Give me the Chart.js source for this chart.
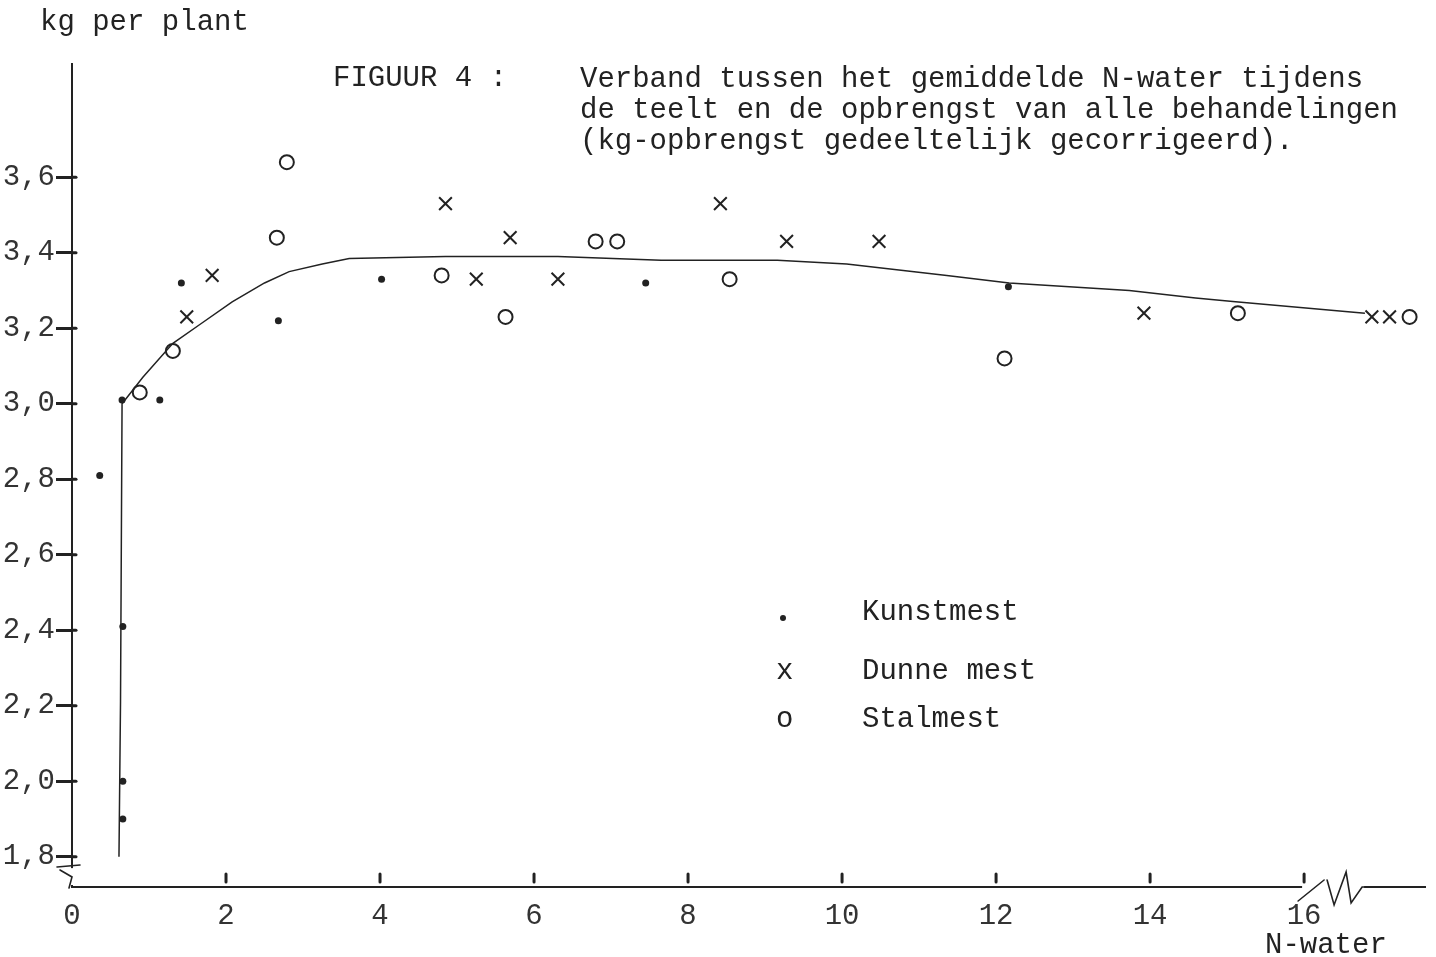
<!DOCTYPE html>
<html>
<head>
<meta charset="utf-8">
<script src="https://cdn.jsdelivr.net/npm/chart.js@4.4.1/dist/chart.umd.min.js"></script>
<style>
  html, body { margin: 0; padding: 0; background: #fff; }
  #wrap { position: relative; width: 1436px; height: 957px; overflow: hidden; }
  canvas { position: absolute; left: 0; top: 0; }
  .t { position: absolute; font-family: "Courier New", "Nimbus Mono PS", "FreeMono", "Liberation Mono", monospace;
       font-size: 29px; line-height: 29px; color: #222; white-space: pre; }
  .dot { position: absolute; width: 6px; height: 6px; border-radius: 50%; background: #222; }
</style>
</head>
<body>
<div id="wrap">
  <canvas id="chart" width="1436" height="957"></canvas>
  <div class="t" style="left:40px; top:8px;">kg per plant</div>
  <div class="t" style="left:333px; top:64px;">FIGUUR 4 :</div>
  <div class="t" style="left:580px; top:64px; line-height:31px;">Verband tussen het gemiddelde N-water tijdens
de teelt en de opbrengst van alle behandelingen
(kg-opbrengst gedeeltelijk gecorrigeerd).</div>
  <div class="dot" style="left:780px; top:615px;"></div>
  <div class="t" style="left:776px; top:657px;">x</div>
  <div class="t" style="left:776px; top:705px;">o</div>
  <div class="t" style="left:862px; top:598px;">Kunstmest</div>
  <div class="t" style="left:862px; top:657px;">Dunne mest</div>
  <div class="t" style="left:862px; top:705px;">Stalmest</div>
  <div class="t" style="left:1265px; top:931px;">N-water</div>
</div>
<script>
// tick labels
const xTicks = [0, 2, 4, 6, 8, 10, 12, 14, 16];
const yTicks = [1.8, 2.0, 2.2, 2.4, 2.6, 2.8, 3.0, 3.2, 3.4, 3.6];

// Kunstmest (dots)
const kunstX = [0.36, 0.65, 1.14, 1.42, 2.68, 4.02, 7.45, 12.16, 0.66, 0.66, 0.66];
const kunstY = [2.81, 3.01, 3.01, 3.32, 3.22, 3.33, 3.32, 3.31, 2.41, 2.00, 1.90];

// Dunne mest (x)
const dunneX = [1.49, 1.82, 4.85, 5.69, 5.25, 6.31, 8.42, 9.28, 10.48, 13.92, 16.88, 17.11];
const dunneY = [3.23, 3.34, 3.53, 3.44, 3.33, 3.33, 3.53, 3.43, 3.43, 3.24, 3.23, 3.23];

// Stalmest (o)
const stalX = [0.88, 1.31, 2.66, 2.79, 4.80, 5.63, 6.80, 7.08, 8.54, 12.11, 15.14, 17.37];
const stalY = [3.03, 3.14, 3.44, 3.64, 3.34, 3.23, 3.43, 3.43, 3.33, 3.12, 3.24, 3.23];

// hand drawn curve
const curveX = [0.61, 0.63, 0.65, 0.92, 1.31, 1.66, 2.08, 2.50, 2.82, 3.25, 3.60, 4.85, 6.31, 7.65, 9.16, 10.06, 11.36, 12.17, 13.73, 14.59, 15.11, 16.79];
const curveY = [1.80, 2.21, 3.00, 3.07, 3.16, 3.21, 3.27, 3.32, 3.35, 3.37, 3.385, 3.39, 3.39, 3.38, 3.38, 3.37, 3.34, 3.32, 3.30, 3.28, 3.27, 3.24];

const INK = '#222';
const FONT = { family: '"Courier New", "Nimbus Mono PS", "FreeMono", "Liberation Mono", monospace', size: 29 };

const pts = (xs, ys) => xs.map((x, i) => ({ x: x, y: ys[i] }));

// small tick marks above the x axis, y dashes crossing the axis, and the axis breaks
const decor = {
  id: 'decor',
  afterDraw(chart) {
    const { ctx, chartArea: a, scales: { x, y } } = chart;
    ctx.save();
    ctx.strokeStyle = INK;
    ctx.lineCap = 'round';

    ctx.lineWidth = 3;
    for (const v of xTicks.slice(1)) {
      const px = x.getPixelForValue(v);
      ctx.beginPath();
      ctx.moveTo(px, a.bottom - 13);
      ctx.lineTo(px, a.bottom - 5);
      ctx.stroke();
    }
    for (const v of yTicks) {
      const py = y.getPixelForValue(v);
      ctx.beginPath();
      ctx.moveTo(a.left, py);
      ctx.lineTo(a.left + 4, py);
      ctx.stroke();
    }

    // x break near 16
    const x16 = x.getPixelForValue(16);
    ctx.fillStyle = '#fff';
    ctx.fillRect(x16 - 2, a.bottom - 3, 62, 6);
    ctx.lineWidth = 1.6;
    ctx.beginPath();
    ctx.moveTo(x16 - 6, a.bottom + 14);
    ctx.lineTo(x16 + 20, a.bottom - 7);
    ctx.moveTo(x16 + 23, a.bottom - 7);
    ctx.lineTo(x16 + 30, a.bottom + 18);
    ctx.lineTo(x16 + 42, a.bottom - 15);
    ctx.lineTo(x16 + 47, a.bottom + 16);
    ctx.lineTo(x16 + 58, a.bottom);
    ctx.lineTo(x16 + 62, a.bottom);
    ctx.stroke();

    // y break below 1,8
    const yb = y.getPixelForValue(1.77);
    ctx.fillRect(a.left - 3, yb, 6, a.bottom - yb - 2);
    ctx.beginPath();
    ctx.moveTo(a.left - 15, a.bottom - 20);
    ctx.lineTo(a.left + 8, a.bottom - 22);
    ctx.moveTo(a.left - 12, a.bottom - 17);
    ctx.lineTo(a.left, a.bottom - 10);
    ctx.lineTo(a.left - 3, a.bottom + 1);
    ctx.stroke();
    ctx.restore();
  }
};

const chart = new Chart(document.getElementById('chart'), {
  type: 'scatter',
  data: {
    datasets: [
      {
        label: 'curve',
        data: pts(curveX, curveY),
        showLine: true,
        borderColor: INK,
        borderWidth: 1.5,
        pointRadius: 0,
        tension: 0,
      },
      {
        label: 'Kunstmest',
        data: pts(kunstX, kunstY),
        pointStyle: 'circle',
        pointRadius: 3.5,
        backgroundColor: INK,
        borderColor: INK,
        borderWidth: 0,
      },
      {
        label: 'Dunne mest',
        data: pts(dunneX, dunneY),
        pointStyle: 'crossRot',
        pointRadius: 9,
        borderColor: INK,
        borderWidth: 2,
      },
      {
        label: 'Stalmest',
        data: pts(stalX, stalY),
        pointStyle: 'circle',
        pointRadius: 7,
        backgroundColor: 'rgba(0,0,0,0)',
        borderColor: INK,
        borderWidth: 2,
      },
    ]
  },
  options: {
    responsive: false,
    animation: false,
    devicePixelRatio: 1,
    layout: { padding: { top: 64, right: 6, left: 0, bottom: 0 } },
    plugins: {
      legend: { display: false },
      tooltip: { enabled: false },
    },
    scales: {
      x: {
        type: 'linear',
        min: 0,
        max: 17.57,
        afterBuildTicks: (axis) => { axis.ticks = xTicks.map(v => ({ value: v })); },
        afterFit: (s) => { s.height = 70; },
        grid: { display: true, drawOnChartArea: false, drawTicks: false },
        border: { display: true, color: INK, width: 2 },
        ticks: { color: '#333', font: FONT, padding: 12, maxRotation: 0, autoSkip: false },
      },
      y: {
        type: 'linear',
        min: 1.72,
        max: 3.9,
        afterBuildTicks: (axis) => { axis.ticks = yTicks.map(v => ({ value: v })); },
        afterFit: (s) => { s.width = 72; },
        grid: { display: true, drawOnChartArea: false, drawTicks: true, tickLength: 16, tickWidth: 3, tickColor: INK },
        border: { display: true, color: INK, width: 2 },
        ticks: {
          color: '#333', font: FONT, padding: 1, autoSkip: false,
          callback: (v) => v.toFixed(1).replace('.', ','),
        },
      }
    }
  },
  plugins: [decor]
});
</script>
</body>
</html>
